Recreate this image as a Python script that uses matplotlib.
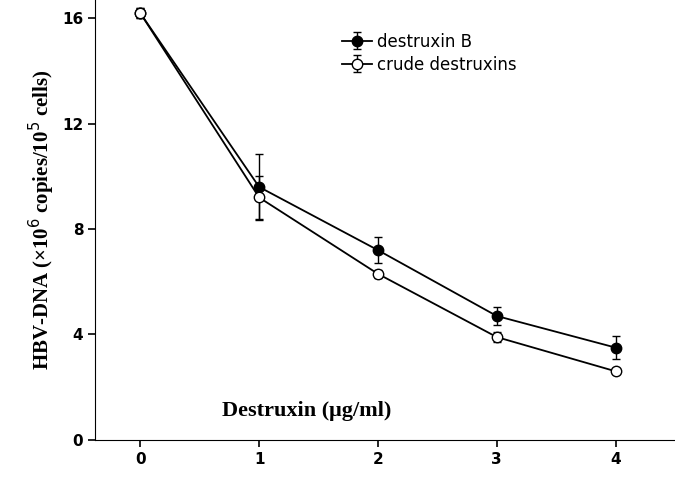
import matplotlib.pyplot as plt

doses = [0, 1, 2, 3, 4]
destruxin_b = [16.2, 9.6, 7.2, 4.7, 3.5]
destruxin_b_err = [0.2, 1.25, 0.5, 0.35, 0.45]
crude = [16.2, 9.2, 6.3, 3.9, 2.6]
crude_err = [0.2, 0.8, 0.15, 0.2, 0.12]

fig = plt.figure(figsize=(6.75, 4.87), dpi=100)
ax = fig.add_axes([0.141, 0.097, 0.859, 0.903])

ax.errorbar(doses, destruxin_b, yerr=destruxin_b_err, color='black', marker='o',
            markersize=7.5, markerfacecolor='black', lw=1.3, capsize=3,
            elinewidth=1, label='destruxin B')
ax.errorbar(doses, crude, yerr=crude_err, color='black', marker='o',
            markersize=7.5, markerfacecolor='white', lw=1.3, capsize=3,
            elinewidth=1, label='crude destruxins')

ax.set_xlim(-0.38, 4.5)
ax.set_ylim(0, 16.7)
ax.set_xticks(doses)
ax.set_yticks([0, 4, 8, 12, 16])
ax.spines['top'].set_visible(False)
ax.spines['right'].set_visible(False)
ax.tick_params(labelsize=11, width=1.2, length=5)
for lbl in ax.get_xticklabels() + ax.get_yticklabels():
    lbl.set_fontweight('bold')
    lbl.set_fontfamily('DejaVu Sans')

ax.set_ylabel('HBV-DNA (×10$^6$ copies/10$^5$ cells)', family='Liberation Serif',
              fontsize=15, fontweight='bold')
ax.text(1.4, 1.1, 'Destruxin (μg/ml)', family='Liberation Serif', fontsize=16,
        fontweight='bold', ha='center', va='center')

ax.legend(loc='upper left', bbox_to_anchor=(0.4, 0.96), frameon=False,
          fontsize=12, handlelength=1.8, handletextpad=0.3, labelspacing=0.3)

plt.savefig('out.png')
